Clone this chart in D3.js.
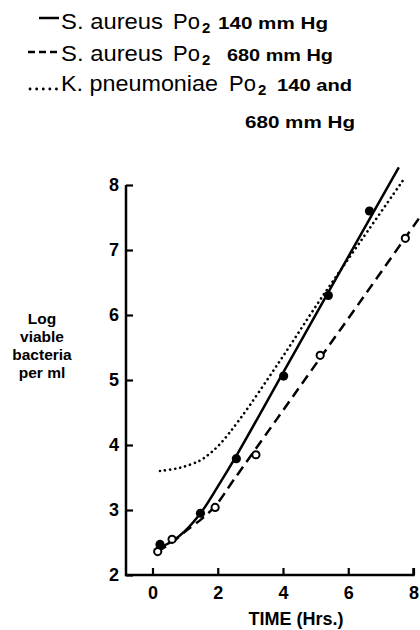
<!DOCTYPE html>
<html>
<head>
<meta charset="utf-8">
<script src="https://cdn.jsdelivr.net/npm/d3@7"></script>
<style>
  body { margin: 0; background: #fff; }
  svg { display: block; font-family: "Liberation Sans", Arial, sans-serif; }
</style>
</head>
<body>
<svg width="420" height="630"></svg>
<script>
  // Log viable bacteria per ml against time (hrs)
  const xTicks = [0, 2, 4, 6, 8];
  const yTicks = [2, 3, 4, 5, 6, 7, 8];

  // S. aureus, Po2 140 mm Hg (filled dots + fitted solid line)
  const aureus140Points = [[0.23, 2.47], [1.47, 2.95], [2.57, 3.79], [4.02, 5.06], [5.39, 6.30], [6.65, 7.60]];
  const aureus140Curve = [[0.13, 2.40], [0.6, 2.52], [1.0, 2.68], [1.5, 2.97], [2.0, 3.36], [2.6, 3.86], [4.0, 5.11], [5.4, 6.36], [6.6, 7.43], [7.55, 8.27]];

  // S. aureus, Po2 680 mm Hg (open dots + fitted dashed line)
  const aureus680Points = [[0.16, 2.36], [0.6, 2.55], [1.92, 3.04], [3.17, 3.85], [5.14, 5.38], [7.75, 7.18]];
  const aureus680Curve = [[0.15, 2.36], [0.6, 2.50], [1.0, 2.67], [1.5, 2.86], [1.92, 3.06], [2.5, 3.47], [3.8, 4.39], [5.1, 5.31], [6.5, 6.30], [7.75, 7.19], [8.3, 7.58]];

  // K. pneumoniae, Po2 140 and 680 mm Hg (dotted line only)
  const pneumoniaeCurve = [[0.23, 3.60], [0.84, 3.65], [1.45, 3.76], [1.76, 3.87], [2.06, 4.01], [2.68, 4.40], [3.9, 5.29], [5.12, 6.22], [6.4, 7.15], [7.69, 8.08]];

  const svg = d3.select("svg");

  const x = d3.scaleLinear().domain([0, 8]).range([152.5, 413.5]);
  const y = d3.scaleLinear().domain([2, 8]).range([575, 185]);
  const axisLeftX = 126;

  // ---- legend ----
  const legendG = svg.append("g").attr("class", "legend");

  const legendRow = (baseline, species, speciesWidth, poX, rest, restX, restWidth) => {
    legendG.append("text")
      .attr("x", 61).attr("y", baseline)
      .attr("font-size", 22)
      .attr("textLength", speciesWidth).attr("lengthAdjust", "spacingAndGlyphs")
      .text(species);
    legendG.append("text")
      .attr("x", poX).attr("y", baseline)
      .attr("font-size", 22)
      .text("Po");
    legendG.append("text")
      .attr("x", poX + 29).attr("y", baseline + 4)
      .attr("font-size", 15).attr("font-weight", "bold")
      .text("2");
    legendG.append("text")
      .attr("x", restX).attr("y", baseline)
      .attr("font-size", 16).attr("font-weight", "bold")
      .attr("textLength", restWidth).attr("lengthAdjust", "spacingAndGlyphs")
      .text(rest);
  };

  legendRow(29, "S. aureus", 102, 173, "140 mm Hg", 218, 110);
  legendRow(61, "S. aureus", 102, 173, "680 mm Hg", 227, 106);
  legendRow(91, "K. pneumoniae", 157, 229, "140 and", 277, 75);

  legendG.append("text")
    .attr("x", 245).attr("y", 128)
    .attr("font-size", 16).attr("font-weight", "bold")
    .attr("textLength", 110).attr("lengthAdjust", "spacingAndGlyphs")
    .text("680 mm Hg");

  legendG.append("line")
    .attr("x1", 39).attr("x2", 59).attr("y1", 18).attr("y2", 18)
    .attr("stroke", "#000").attr("stroke-width", 2.5);
  legendG.append("line")
    .attr("x1", 28).attr("x2", 59).attr("y1", 52).attr("y2", 52)
    .attr("stroke", "#000").attr("stroke-width", 2.5)
    .attr("stroke-dasharray", "7,4");
  legendG.append("line")
    .attr("x1", 30).attr("x2", 59).attr("y1", 89).attr("y2", 89)
    .attr("stroke", "#000").attr("stroke-width", 2.8)
    .attr("stroke-linecap", "round")
    .attr("stroke-dasharray", "0.1,6.5");

  // ---- axes ----
  const yAxisG = svg.append("g")
    .attr("transform", `translate(${axisLeftX},0)`)
    .call(d3.axisLeft(y).tickValues(yTicks).tickSize(-7).tickPadding(7).tickFormat(d3.format("d")));
  yAxisG.select(".domain").remove();

  const xAxisG = svg.append("g")
    .attr("transform", `translate(0,${y(2)})`)
    .call(d3.axisBottom(x).tickValues(xTicks).tickSize(-7).tickPadding(11).tickFormat(d3.format("d")));
  xAxisG.select(".domain").remove();

  [yAxisG, xAxisG].forEach(g => {
    g.selectAll(".tick line").attr("stroke-width", 2.2);
    g.selectAll(".tick text")
      .attr("font-family", "Liberation Sans, Arial, sans-serif")
      .attr("font-size", 18).attr("font-weight", "bold").attr("fill", "#000");
  });
  xAxisG.selectAll(".tick text").attr("dy", "0.71em");

  // axis lines
  svg.append("path")
    .attr("d", `M${axisLeftX},${y(8)}V${y(2)}H${x(8)}V${y(2) - 7}`)
    .attr("fill", "none").attr("stroke", "#000").attr("stroke-width", 2.5);

  // axis titles
  svg.append("text")
    .attr("x", x(4) + 13).attr("y", 625)
    .attr("text-anchor", "middle")
    .attr("font-size", 18).attr("font-weight", "bold")
    .text("TIME (Hrs.)");

  const yTitle = ["Log", "viable", "bacteria", "per ml"];
  svg.append("text")
    .attr("text-anchor", "middle")
    .attr("font-size", 15.5).attr("font-weight", "bold")
    .selectAll("tspan").data(yTitle).enter().append("tspan")
    .attr("x", 42)
    .attr("y", (d, i) => 324 + i * 18)
    .text(d => d);

  // ---- curves ----
  const line = d3.line()
    .x(d => x(d[0]))
    .y(d => y(d[1]))
    .curve(d3.curveCatmullRom.alpha(0.5));

  const curvesG = svg.append("g").attr("fill", "none").attr("stroke", "#000");

  curvesG.append("path")
    .attr("d", line(pneumoniaeCurve))
    .attr("stroke-width", 2.6)
    .attr("stroke-linecap", "round")
    .attr("stroke-dasharray", "0.1,5");

  curvesG.append("path")
    .attr("d", line(aureus680Curve))
    .attr("stroke-width", 2.5)
    .attr("stroke-dasharray", "10,6");

  curvesG.append("path")
    .attr("d", line(aureus140Curve))
    .attr("stroke-width", 2.5);

  // ---- points ----
  svg.append("g").selectAll("circle").data(aureus680Points).enter().append("circle")
    .attr("cx", d => x(d[0])).attr("cy", d => y(d[1]))
    .attr("r", 3.6)
    .attr("fill", "#fff").attr("stroke", "#000").attr("stroke-width", 2);

  svg.append("g").selectAll("circle").data(aureus140Points).enter().append("circle")
    .attr("cx", d => x(d[0])).attr("cy", d => y(d[1]))
    .attr("r", 4.6)
    .attr("fill", "#000");
</script>
</body>
</html>
